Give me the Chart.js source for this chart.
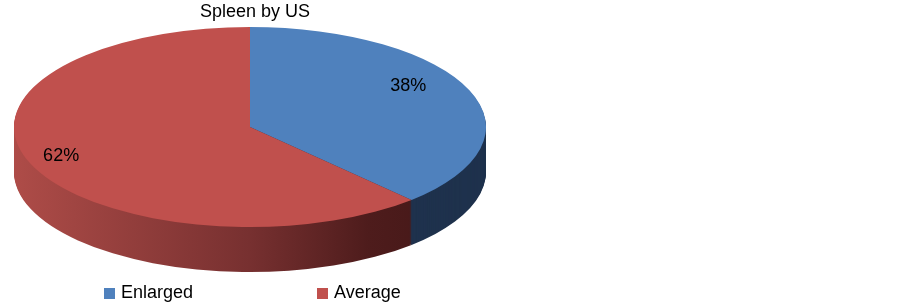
<!DOCTYPE html>
<html>
<head>
<meta charset="utf-8">
<script src="https://cdn.jsdelivr.net/npm/chart.js@4.4.1/dist/chart.umd.min.js"></script>
<style>
  html, body { margin: 0; padding: 0; background: #fff; }
  #wrap { position: relative; width: 500px; height: 305px; }
</style>
</head>
<body>
<div id="wrap"><canvas id="c"></canvas></div>
<script>
// data
const categories = ['Enlarged', 'Average'];
const values = [38, 62];
const topColors = ['#4F81BD', '#C0504D'];
const chartTitle = 'Spleen by US';

const FONT = '"Liberation Sans", Arial, sans-serif';

// where the tilted pie sits on the page
const CX = 250, CY = 127, RX = 236, RY = 100, DEPTH = 45;

function ellipseTransform(ctx, arc, dy) {
    ctx.translate(CX, CY + dy);
    ctx.scale(RX / arc.outerRadius, RY / arc.outerRadius);
    ctx.translate(-arc.x, -arc.y);
}

const pie3d = {
    id: 'pie3d',
    beforeDatasetsDraw(chart) {
        const ctx = chart.ctx;
        const arcs = chart.getDatasetMeta(0).data;
        const a0 = arcs[0];
        const left = a0.x - a0.outerRadius, right = a0.x + a0.outerRadius;

        // side colours: blue is flat dark, red fades left to right
        const redSide = ctx.createLinearGradient(left, 0, right, 0);
        redSide.addColorStop(0, '#AE4C48');
        redSide.addColorStop(0.5, '#773030');
        redSide.addColorStop(0.75, '#4E1C1C');
        redSide.addColorStop(1, '#401616');
        const sides = ['#1F324D', redSide];

        const saved = arcs.map(a => a.options.backgroundColor);
        for (let dy = DEPTH; dy > 0; dy--) {
            ctx.save();
            ellipseTransform(ctx, a0, dy);
            arcs.forEach((a, i) => {
                a.options.backgroundColor = sides[i];
                a.draw(ctx);
            });
            ctx.restore();
        }
        arcs.forEach((a, i) => a.options.backgroundColor = saved[i]);

        ctx.save();
        ellipseTransform(ctx, a0, 0);
    },
    afterDatasetsDraw(chart) {
        const ctx = chart.ctx;
        ctx.restore();

        // percentage labels on the top face
        const arcs = chart.getDatasetMeta(0).data;
        const total = values.reduce((s, v) => s + v, 0);
        ctx.save();
        ctx.font = '18px ' + FONT;
        ctx.fillStyle = '#000';
        ctx.textAlign = 'center';
        ctx.textBaseline = 'middle';
        const labelR = [0.78, 0.86];
        const labelShift = [-0.18, 0.03];
        arcs.forEach((a, i) => {
            const mid = (a.startAngle + a.endAngle) / 2 + labelShift[i];
            const x = CX + 2 + Math.cos(mid) * RX * labelR[i];
            const y = CY + Math.sin(mid) * RY * labelR[i];
            ctx.fillText(Math.round(values[i] / total * 100) + '%', x, y);
        });

        // legend, spread out like the original
        const legendX = [104, 317];
        ctx.textAlign = 'left';
        categories.forEach((c, i) => {
            ctx.fillStyle = topColors[i];
            ctx.fillRect(legendX[i], 288, 11, 11);
            ctx.fillStyle = '#000';
            ctx.fillText(c, legendX[i] + 17, 293);
        });
        ctx.restore();
    }
};

new Chart(document.getElementById('c'), {
    type: 'pie',
    data: {
        labels: categories,
        datasets: [{
            data: values,
            backgroundColor: topColors,
            borderWidth: 0,
            clip: false
        }]
    },
    options: {
        responsive: true,
        maintainAspectRatio: false,
        animation: false,
        layout: { padding: { left: 10, right: 0, top: 0, bottom: 30 } },
        plugins: {
            title: {
                display: true,
                text: chartTitle,
                color: '#000',
                font: { family: FONT, size: 18, weight: 'normal' },
                padding: { top: 1, bottom: 4 }
            },
            legend: { display: false },
            tooltip: { enabled: false }
        }
    },
    plugins: [pie3d]
});
</script>
</body>
</html>
